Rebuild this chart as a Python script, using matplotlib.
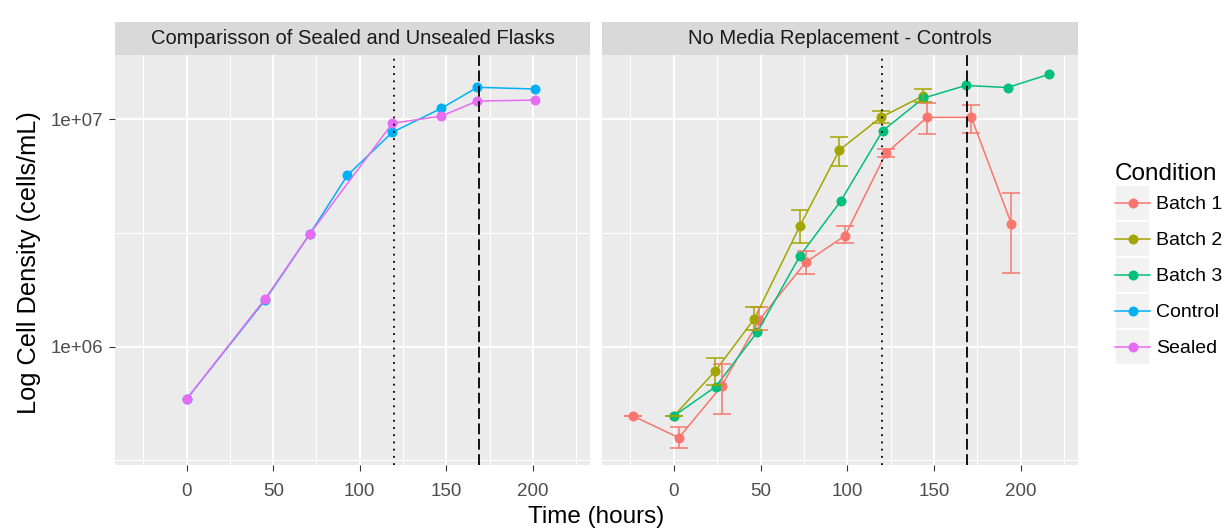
import numpy as np
import matplotlib.pyplot as plt
from matplotlib.lines import Line2D
from matplotlib.patches import Rectangle
from matplotlib.legend_handler import HandlerLine2D
from matplotlib.ticker import FixedLocator, FuncFormatter, NullFormatter

plt.rcParams['font.family'] = ['Liberation Sans', 'DejaVu Sans']

# sealed vs unsealed flasks
control_t = [0, 45.2, 71.1, 92.9, 118.8, 147.1, 167.9, 201.5]
control_n = [5.89e5, 1.60e6, 3.13e6, 5.68e6, 8.77e6, 1.118e7, 1.383e7, 1.36e7]
sealed_t = [0, 45.2, 71.1, 118.8, 147.1, 167.9, 201.5]
sealed_n = [5.89e5, 1.62e6, 3.13e6, 9.6e6, 1.034e7, 1.203e7, 1.216e7]

# no media replacement controls (mean, low, high)
b1_t = [-23.5, 2.9, 27.5, 49.2, 76.0, 98.7, 122.2, 145.9, 171.5, 194.6]
b1_n = [4.96e5, 3.98e5, 6.71e5, 1.31e6, 2.35e6, 3.08e6, 7.08e6, 1.02e7, 1.02e7, 3.47e6]
b1_lo = [4.96e5, 3.60e5, 5.05e5, 1.19e6, 2.08e6, 2.86e6, 6.81e6, 8.59e6, 8.67e6, 2.10e6]
b1_hi = [4.96e5, 4.43e5, 8.40e5, 1.49e6, 2.64e6, 3.40e6, 7.38e6, 1.175e7, 1.156e7, 4.75e6]

b2_t = [0, 24.0, 46.5, 72.7, 95.5, 119.3, 143.9]
b2_n = [4.96e5, 7.84e5, 1.33e6, 3.40e6, 7.33e6, 1.02e7, 1.27e7]
b2_lo = [4.96e5, 6.79e5, 1.18e6, 2.86e6, 6.25e6, 9.60e6, 1.19e7]
b2_hi = [4.96e5, 8.89e5, 1.49e6, 3.99e6, 8.34e6, 1.09e7, 1.36e7]

b3_t = [0, 24.1, 48.1, 72.7, 96.2, 120.3, 143.9, 168.4, 192.4, 216.5]
b3_n = [4.96e5, 6.67e5, 1.16e6, 2.51e6, 4.37e6, 8.89e6, 1.24e7, 1.41e7, 1.38e7, 1.58e7]

conditions = ['Batch 1', 'Batch 2', 'Batch 3', 'Control', 'Sealed']
colors = {'Batch 1': '#F8766D', 'Batch 2': '#A3A500', 'Batch 3': '#00BF7D',
          'Control': '#00B0F6', 'Sealed': '#E76BF3'}
panel_titles = ['Comparisson of Sealed and Unsealed Flasks', 'No Media Replacement - Controls']
vlines = [120, 169]

W, H = 1225, 531
fig = plt.figure(figsize=(W / 100, H / 100), dpi=100)
ax1 = fig.add_axes([115 / W, 1 - 465 / H, 475 / W, 410 / H])
ax2 = fig.add_axes([602 / W, 1 - 465 / H, 476 / W, 410 / H])


def style_panel(ax, title):
    ax.set_facecolor('#EBEBEB')
    ax.set_yscale('log')
    ax.set_xlim(-41.4, 233)
    ax.set_ylim(10 ** 5.48, 10 ** 7.283)
    ax.set_xticks([0, 50, 100, 150, 200])
    ax.set_xticks([-25, 25, 75, 125, 175, 225], minor=True)
    ax.yaxis.set_major_locator(FixedLocator([1e6, 1e7]))
    ax.yaxis.set_minor_locator(FixedLocator([10 ** 5.5, 10 ** 6.5]))
    ax.yaxis.set_major_formatter(FuncFormatter(lambda v, p: '1e+%02d' % round(np.log10(v))))
    ax.yaxis.set_minor_formatter(NullFormatter())
    ax.grid(which='major', color='white', lw=1.4)
    ax.grid(which='minor', color='white', lw=0.7)
    ax.set_axisbelow(True)
    for s in ax.spines.values():
        s.set_visible(False)
    ax.tick_params(which='minor', length=0)
    ax.tick_params(which='major', length=4.3, width=0.8, color='#333333',
                   labelcolor='#4D4D4D', labelsize=13.5)
    ax.tick_params(axis='x', pad=8.5)
    ax.tick_params(axis='y', pad=4)
    ax.add_patch(Rectangle((0, 1), 1, 33 / 410, transform=ax.transAxes, clip_on=False,
                           facecolor='#D9D9D9', edgecolor='none'))
    ax.text(0.5, 1 + 16.5 / 410, title, transform=ax.transAxes, ha='center', va='center',
            fontsize=14.5, color='#1A1A1A')
    for v, dash in zip(vlines, [(1, 3), (6, 2.5)]):
        ax.axvline(v, color='black', lw=1.3, dashes=dash, zorder=6)


style_panel(ax1, panel_titles[0])
style_panel(ax2, panel_titles[1])
ax2.tick_params(axis='y', left=False, labelleft=False)

line_kw = dict(lw=1.1, marker='o', markersize=7.2, markeredgewidth=0)

ax1.plot(control_t, control_n, color=colors['Control'], zorder=3, **line_kw)
ax1.plot(sealed_t, sealed_n, color=colors['Sealed'], zorder=3, **line_kw)

for t, n, lo, hi, name in [(b1_t, b1_n, b1_lo, b1_hi, 'Batch 1'),
                           (b2_t, b2_n, b2_lo, b2_hi, 'Batch 2')]:
    n = np.array(n)
    ax2.plot(t, n, color=colors[name], zorder=3, **line_kw)
    ax2.errorbar(t, n, yerr=[n - np.array(lo), np.array(hi) - n], fmt='none',
                 ecolor=colors[name], elinewidth=1.1, capsize=6.2, capthick=1.1, zorder=4)
ax2.plot(b3_t, b3_n, color=colors['Batch 3'], zorder=3, **line_kw)

fig.text(29 / W, 1 - 263 / H, 'Log Cell Density (cells/mL)', rotation=90,
         ha='center', va='center', fontsize=18.3, color='black')
fig.text(596.5 / W, 1 - 517 / H, 'Time (hours)', ha='center', va='center',
         fontsize=17.5, color='black')


class KeyHandler(HandlerLine2D):
    # grey key box behind each legend entry, with the line centred in it
    def create_artists(self, legend, orig_handle, xdescent, ydescent, width, height,
                       fontsize, trans):
        arts = super().create_artists(legend, orig_handle, xdescent, ydescent, width,
                                      height, fontsize, trans)
        yc = (height - 2 * ydescent) / 2
        for a in arts:
            a.set_ydata(np.full(len(a.get_xdata()), yc, dtype=float))
        bg = Rectangle((-xdescent, -ydescent), width, height, facecolor='#F2F2F2',
                       edgecolor='white', lw=1.2, transform=trans)
        return [bg] + list(arts)


handles = [Line2D([], [], color=colors[c], **line_kw) for c in conditions]
leg = fig.legend(handles, conditions, loc='upper left', bbox_to_anchor=(1115 / W, 1 - 163 / H),
                 frameon=False, title='Condition', fontsize=14, title_fontsize=17.5,
                 handler_map={Line2D: KeyHandler()}, numpoints=1, handlelength=1.8,
                 handleheight=2.47, labelspacing=0, handletextpad=0.3, borderpad=0,
                 borderaxespad=0, alignment='left')

fig.savefig('out.png', dpi=100)
